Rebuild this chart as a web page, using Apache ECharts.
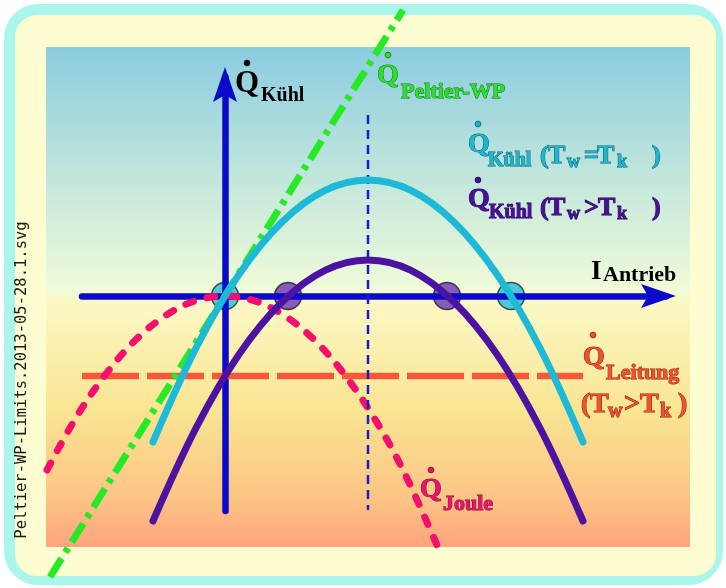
<!DOCTYPE html>
<html>
<head>
<meta charset="utf-8">
<script src="https://cdn.jsdelivr.net/npm/echarts@6/dist/echarts.min.js"></script>
<style>
  html, body { margin: 0; padding: 0; background: #ffffff; }
  #chart { width: 726px; height: 588px; }
</style>
</head>
<body>
<div id="chart"></div>
<script>
// Drive current samples (x) and the cooling power of the cold side (y)
const currentSteps     = [-3.6, -1.45, 0.7, 2.85, 5.0, 7.15, 9.3, 11.45, 13.6, 15.75, 17.9];
const coolingEqualTemp = [-7.3, -2.6, 1.08, 3.7, 5.28, 5.8, 5.28, 3.7, 1.08, -2.6, -7.3];
const coolingWarmSide  = [-11.25, -6.6, -2.92, -0.3, 1.28, 1.8, 1.28, -0.3, -2.92, -6.6, -11.25];

// Joule heat (negative contribution to cooling)
const jouleCurrent = [-8.9, -7.4, -5.9, -4.4, -2.9, -1.45, 0, 1.45, 2.9, 4.4, 5.9, 7.4, 8.9, 10.75];
const jouleHeat    = [-8.7, -6.0, -3.83, -2.13, -0.93, -0.23, 0, -0.23, -0.93, -2.13, -3.83, -6.0, -8.7, -12.8];

// Peltier heat pump term (straight line through the origin)
const peltierCurrent = [-8.75, 8.9];
const peltierHeat    = [-14.05, 14.3];

// Heat conduction back-flow (T_w > T_k)
const conductionCurrent = [-7.15, 17.9];
const conductionHeat    = [-4, -4];

// Current of maximum cooling power
const optimumCurrent = [7.15, 7.15];
const optimumRange   = [9.05, -10.7];

// Zero crossings of both cooling curves
const rootsEqualTemp = [0, 14.3];
const rootsWarmSide  = [3.15, 11.1];

const pairs = (xs, ys) => xs.map((x, i) => [x, ys[i]]);
const onAxis = xs => xs.map(x => [x, 0]);

const arrowHead = 'path://M12,0L24,35L12,28L0,35Z';
const axisBlue = '#0a0ac8';

// Text is drawn around its middle line; find how far the alphabetic baseline sits below it
const measureCtx = document.createElement('canvas').getContext('2d');
function baselineDrop(font) {
  measureCtx.font = font;
  measureCtx.textBaseline = 'middle';
  return measureCtx.measureText('H').actualBoundingBoxDescent;
}

const serif = '"Liberation Serif", "Times New Roman", serif';
function txt(s, x, base, size, fill, stroke) {
  const font = 'bold ' + size + 'px ' + serif;
  return {
    type: 'text', z: 20,
    style: {
      text: s, x: x, y: base - baselineDrop(font),
      font: font,
      fill: fill, stroke: stroke || null, lineWidth: stroke ? 1 : 0,
      textAlign: 'left', verticalAlign: 'middle'
    }
  };
}
function dot(cx, cy, fill, stroke) {
  return { type: 'circle', z: 20, shape: { cx: cx, cy: cy, r: 2.9 },
           style: { fill: fill, stroke: stroke || fill, lineWidth: 0.8 } };
}

const cyanFill = '#1eb6cf', cyanEdge = '#0b5d6e';
const violetFill = '#4a1098', violetEdge = '#1c0050';
const greenFill = '#2ee02e', greenEdge = '#137313';
const redFill = '#f0502c', redEdge = '#8a2010';
const pinkFill = '#e8146c', pinkEdge = '#7a0a38';

const labels = [
  // Q_Kühl at the vertical axis
  txt('Q', 235, 92, 31, '#000'), dot(247, 63, '#000'), txt('Kühl', 261, 101, 20, '#000'),
  // Q_Peltier-WP
  txt('Q', 377, 83, 28, greenFill, greenEdge), dot(388, 55, greenFill, greenEdge),
  txt('Peltier-WP', 401, 97.5, 22, greenFill, greenEdge),
  // Q_Kühl (T_w = T_k)
  txt('Q', 468, 152, 28, cyanFill, cyanEdge), dot(478, 124, cyanFill, cyanEdge),
  txt('Kühl', 488, 166, 20, cyanFill, cyanEdge),
  txt('(', 540, 163, 26, cyanFill, cyanEdge), txt('T', 548, 163, 26, cyanFill, cyanEdge),
  txt('w', 567, 167, 18, cyanFill, cyanEdge), txt('=', 584, 163, 26, cyanFill, cyanEdge),
  txt('T', 597, 163, 26, cyanFill, cyanEdge), txt('k', 617, 167, 18, cyanFill, cyanEdge),
  txt(')', 652, 163, 26, cyanFill, cyanEdge),
  // Q_Kühl (T_w > T_k)
  txt('Q', 468, 207, 28, violetFill, violetEdge), dot(478, 180, violetFill, violetEdge),
  txt('Kühl', 489, 218, 20, violetFill, violetEdge),
  txt('(', 540, 215, 26, violetFill, violetEdge), txt('T', 548, 215, 26, violetFill, violetEdge),
  txt('w', 567, 219, 18, violetFill, violetEdge), txt('>', 584, 215, 26, violetFill, violetEdge),
  txt('T', 598, 215, 26, violetFill, violetEdge), txt('k', 617, 219, 18, violetFill, violetEdge),
  txt(')', 652, 215, 26, violetFill, violetEdge),
  // I_Antrieb at the horizontal axis
  txt('I', 591, 279, 27, '#000'), txt('Antrieb', 603, 281, 22, '#000'),
  // Q_Leitung (T_w > T_k)
  txt('Q', 583, 365, 28, redFill, redEdge), dot(593, 335, redFill, redEdge),
  txt('Leitung', 606, 379, 22, redFill, redEdge),
  txt('(', 581, 412, 28, redFill, redEdge), txt('T', 590, 412, 28, redFill, redEdge),
  txt('w', 608, 417, 20, redFill, redEdge), txt('>', 624, 412, 28, redFill, redEdge),
  txt('T', 640, 412, 28, redFill, redEdge), txt('k', 660, 417, 20, redFill, redEdge),
  txt(')', 678, 412, 28, redFill, redEdge),
  // Q_Joule
  txt('Q', 420, 497, 28, pinkFill, pinkEdge), dot(431, 470, pinkFill, pinkEdge),
  txt('Joule', 443, 510, 22, pinkFill, pinkEdge),
  // file name along the left border
  { type: 'text', z: 20, x: 22, y: 380, rotation: Math.PI / 2,
    style: { text: 'Peltier-WP-Limits.2013-05-28.1.svg', x: 0, y: 0,
             font: '15.5px "DejaVu Sans Mono", monospace', fill: '#1a1a1a',
             textAlign: 'center', verticalAlign: 'middle' } }
];

const frame = [
  { type: 'rect', z: -10, shape: { x: 4, y: 4, width: 719, height: 581, r: 34 },
    style: { fill: '#abf6ec' } },
  { type: 'rect', z: -9, shape: { x: 15, y: 15, width: 701, height: 561, r: 22 },
    style: { fill: '#fefcd1' } },
  { type: 'rect', z: -8, shape: { x: 46, y: 47, width: 644, height: 249 },
    style: { fill: { type: 'linear', x: 0, y: 0, x2: 0, y2: 1, colorStops: [
      { offset: 0, color: '#8bcce0' }, { offset: 0.5, color: '#bfe5dc' }, { offset: 1, color: '#f3fcd8' } ] } } },
  { type: 'rect', z: -8, shape: { x: 46, y: 296, width: 644, height: 251 },
    style: { fill: { type: 'linear', x: 0, y: 0, x2: 0, y2: 1, colorStops: [
      { offset: 0, color: '#fcf9c8' }, { offset: 0.45, color: '#f9e592' },
      { offset: 0.8, color: '#fcc585' }, { offset: 1, color: '#fda47c' } ] } } }
];

const hidden = { axisLine: { show: false }, axisTick: { show: false },
                 axisLabel: { show: false }, splitLine: { show: false } };
const axisArrowLine = { onZero: true, lineStyle: { color: axisBlue, width: 6.5 },
                        symbol: ['none', arrowHead], symbolSize: [24, 35], symbolOffset: [0, -7.5] };

const chart = echarts.init(document.getElementById('chart'), null, { renderer: 'canvas' });
chart.setOption({
  animation: false,
  backgroundColor: '#ffffff',
  graphic: { elements: frame.concat(labels) },
  grid: [
    // drawn axes: I_Antrieb and Q_Kühl, 20 px per unit, origin at (225, 296)
    { left: 82, top: 77, width: 584, height: 434, show: false },
    // plotting area with the same scale, wide enough for every curve
    { left: 35, top: 6, width: 631, height: 580, show: false }
  ],
  xAxis: [
    { gridIndex: 0, type: 'value', min: -7.15, max: 22.05, z: 2, axisLine: axisArrowLine,
      axisTick: { show: false }, axisLabel: { show: false }, splitLine: { show: false } },
    Object.assign({ gridIndex: 1, type: 'value', min: -9.5, max: 22.05 }, hidden)
  ],
  yAxis: [
    { gridIndex: 0, type: 'value', min: -10.75, max: 10.95, z: 2, axisLine: axisArrowLine,
      axisTick: { show: false }, axisLabel: { show: false }, splitLine: { show: false } },
    Object.assign({ gridIndex: 1, type: 'value', min: -14.5, max: 14.5 }, hidden)
  ],
  series: [
    { type: 'scatter', xAxisIndex: 1, yAxisIndex: 1, z: 1, symbol: 'circle', symbolSize: 27,
      data: onAxis(rootsEqualTemp),
      itemStyle: { color: '#22bcd8', borderColor: '#1b2a3a', borderWidth: 1.5 } },
    { type: 'scatter', xAxisIndex: 1, yAxisIndex: 1, z: 1, symbol: 'circle', symbolSize: 27,
      data: onAxis(rootsWarmSide),
      itemStyle: { color: '#6a34b2', borderColor: '#1b1a2a', borderWidth: 1.5 } },
    { type: 'line', xAxisIndex: 1, yAxisIndex: 1, z: 3, clip: false, showSymbol: false,
      data: pairs(conductionCurrent, conductionHeat),
      lineStyle: { color: '#f8583a', width: 6.5, type: [57, 8], cap: 'butt' } },
    { type: 'line', xAxisIndex: 1, yAxisIndex: 1, z: 3, clip: false, showSymbol: false,
      data: pairs(peltierCurrent, peltierHeat),
      lineStyle: { color: '#26ea26', width: 7, type: [22, 7, 5, 7], cap: 'butt' } },
    { type: 'line', xAxisIndex: 1, yAxisIndex: 1, z: 3, clip: false, showSymbol: false, smooth: 0.35,
      data: pairs(jouleCurrent, jouleHeat),
      lineStyle: { color: '#f2106c', width: 7, type: [8, 14], cap: 'round' } },
    { type: 'line', xAxisIndex: 1, yAxisIndex: 1, z: 3, clip: false, showSymbol: false,
      data: pairs(optimumCurrent, optimumRange),
      lineStyle: { color: '#1a1ad0', width: 2.5, type: [9, 6] } },
    { type: 'line', xAxisIndex: 1, yAxisIndex: 1, z: 3, clip: false, showSymbol: false, smooth: 0.35,
      data: pairs(currentSteps, coolingEqualTemp),
      lineStyle: { color: '#1cbad6', width: 7, cap: 'round' } },
    { type: 'line', xAxisIndex: 1, yAxisIndex: 1, z: 3, clip: false, showSymbol: false, smooth: 0.35,
      data: pairs(currentSteps, coolingWarmSide),
      lineStyle: { color: '#4c12a2', width: 7, cap: 'round' } }
  ]
});
</script>
</body>
</html>
